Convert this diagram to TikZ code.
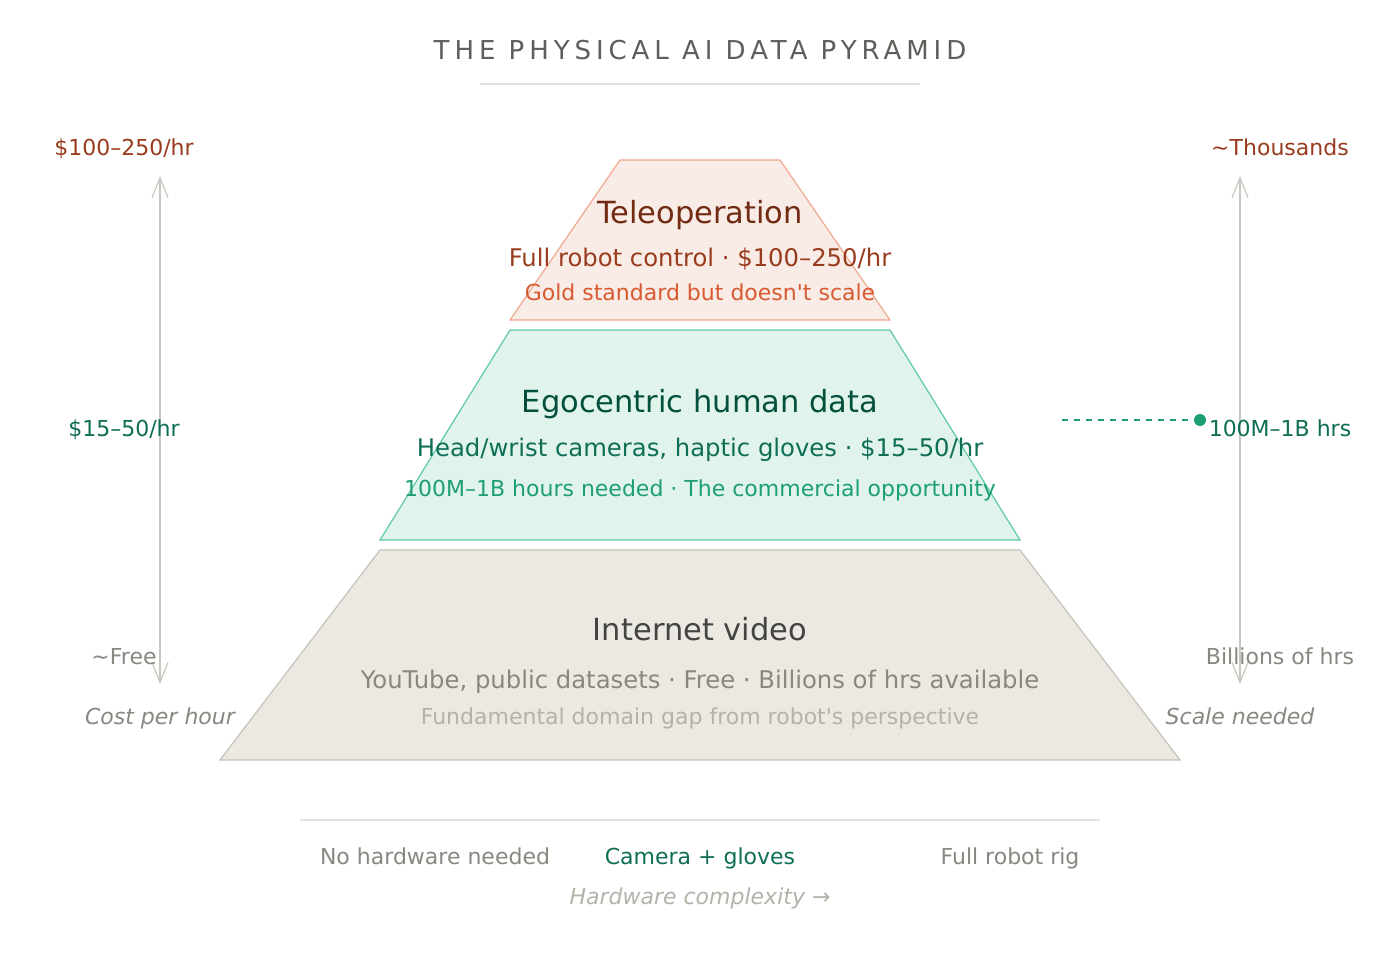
\documentclass[tikz,border=0pt]{standalone}
\usepackage{fontspec}
\setmainfont{DejaVu Sans}
\newfontfamily\titlefont[LetterSpace=19]{DejaVu Sans}
\usetikzlibrary{arrows.meta}
\definecolor{titlec}{HTML}{5F5E5A}
\definecolor{rulec}{HTML}{E3E2DE}
\definecolor{tfill}{HTML}{F9ECE6}
\definecolor{tdraw}{HTML}{F0A98E}
\definecolor{tdark}{HTML}{712B13}
\definecolor{tmid}{HTML}{993C1D}
\definecolor{tlight}{HTML}{D85A30}
\definecolor{efill}{HTML}{E1F4EC}
\definecolor{edraw}{HTML}{5DCAA5}
\definecolor{edark}{HTML}{04503F}
\definecolor{emid}{HTML}{0F6E56}
\definecolor{elight}{HTML}{1D9E75}
\definecolor{ifill}{HTML}{ECE9E2}
\definecolor{idraw}{HTML}{C6C3BA}
\definecolor{idark}{HTML}{444441}
\definecolor{imid}{HTML}{888780}
\definecolor{ilight}{HTML}{B4B2A9}
\definecolor{axisc}{HTML}{C9C7C0}
\tikzset{
  lbl/.style={anchor=base, inner sep=0pt, outer sep=0pt},
  namef/.style={font=\fontsize{30.5}{34}\selectfont},
  subf/.style={font=\fontsize{24.3}{28}\selectfont},
  smallf/.style={font=\fontsize{22}{26}\selectfont},
  italf/.style={font=\itshape\fontsize{22}{26}\selectfont},
  tier/.style={line width=1.2pt, line join=miter},
  axisarrow/.style={draw=axisc, line width=1.2pt, {Straight Barb[length=20pt,width=16pt,line width=1.2pt]}-{Straight Barb[length=20pt,width=16pt,line width=1.2pt]}},
  rulel/.style={draw=rulec, line width=1.5pt}
}
\begin{document}
\begin{tikzpicture}[x=1pt,y=-1pt]
\useasboundingbox (0,0) rectangle (1400,960);
\fill[white] (0,0) rectangle (1400,960);
% title
\node[lbl, text=titlec, font=\titlefont\fontsize{26}{30}\selectfont] (title) at (700,60) {THE PHYSICAL AI DATA PYRAMID};
\coordinate (tl1) at (480,84);
\coordinate (tl2) at (920,84);
\draw[rulel] (tl1) -- (tl2);
% tiers
\filldraw[tier, fill=tfill, draw=tdraw] (620,160) -- (780,160) -- (890,320) -- (510,320) -- cycle;
\filldraw[tier, fill=efill, draw=edraw] (510,330) -- (890,330) -- (1020,540) -- (380,540) -- cycle;
\filldraw[tier, fill=ifill, draw=idraw] (380,550) -- (1020,550) -- (1180,760) -- (220,760) -- cycle;
% tier texts
\node[lbl, namef, text=tdark] (t1) at (700,224) {Teleoperation};
\node[lbl, subf, text=tmid] (t2) at (700,266) {Full robot control · \$100–250/hr};
\node[lbl, smallf, text=tlight] (t3) at (700,300) {Gold standard but doesn\textquotesingle t scale};
\node[lbl, namef, text=edark] (e1) at (700,412) {Egocentric human data};
\node[lbl, subf, text=emid] (e2) at (700,456) {Head/wrist cameras, haptic gloves · \$15–50/hr};
\node[lbl, smallf, text=elight] (e3) at (700,496) {100M–1B hours needed · The commercial opportunity};
\node[lbl, namef, text=idark] (i1) at (700,640) {Internet video};
\node[lbl, subf, text=imid] (i2) at (700,688) {YouTube, public datasets · Free · Billions of hrs available};
\node[lbl, smallf, text=ilight] (i3) at (700,724) {Fundamental domain gap from robot\textquotesingle s perspective};
% left axis
\coordinate (la1) at (160,176);
\coordinate (la2) at (160,684);
\draw[axisarrow] (la2) -- (la1);
\node[lbl, smallf, text=tmid] (l1) at (124,156) {\$100–250/hr};
\node[lbl, smallf, text=emid] (l2) at (124,436) {\$15–50/hr};
\node[lbl, smallf, text=imid] (l3) at (124,664) {\textasciitilde Free};
\node[lbl, italf, text=imid] (l4) at (160,724) {Cost per hour};
% right axis
\coordinate (ra1) at (1240,176);
\coordinate (ra2) at (1240,684);
\draw[axisarrow] (ra2) -- (ra1);
\node[lbl, smallf, text=tmid] (r1) at (1280,156) {\textasciitilde Thousands};
\node[lbl, smallf, text=emid] (r2) at (1280,436) {100M–1B hrs};
\node[lbl, smallf, text=imid] (r3) at (1280,664) {Billions of hrs};
\node[lbl, italf, text=imid] (r4) at (1240,724) {Scale needed};
% marker
\node[circle, fill=elight, inner sep=0pt, minimum size=12pt] (dot) at (1200,420) {};
\coordinate (dashstart) at (1062,420);
\draw[elight, line width=1.5pt, dash pattern=on 6pt off 6pt] (dashstart) -- (dot.west);
% bottom axis
\coordinate (bl1) at (300,820);
\coordinate (bl2) at (1100,820);
\draw[rulel] (bl1) -- (bl2);
\node[lbl, smallf, text=imid] (b1) at (435,864) {No hardware needed};
\node[lbl, smallf, text=emid] (b2) at (700,864) {Camera + gloves};
\node[lbl, smallf, text=imid] (b3) at (1010,864) {Full robot rig};
\node[lbl, italf, text=ilight] (b4) at (700,904) {Hardware complexity →};
\end{tikzpicture}
\end{document}
